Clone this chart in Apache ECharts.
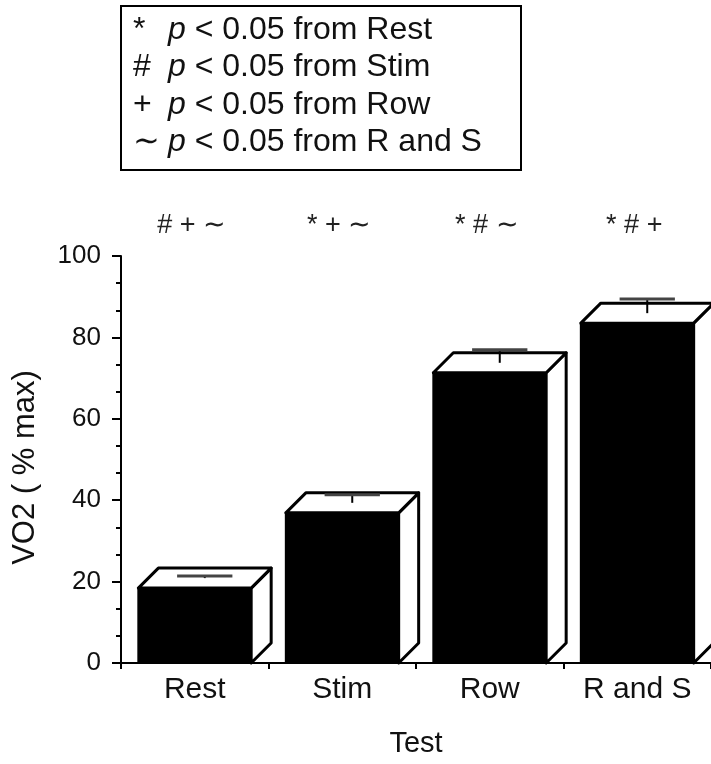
<!DOCTYPE html>
<html><head><meta charset="utf-8">
<script src="https://cdn.jsdelivr.net/npm/echarts@6/dist/echarts.min.js"></script>
<style>html,body{margin:0;padding:0;background:#fff}#c{width:711px;height:764px}</style>
</head><body><div id="c"></div>
<script>
// ---- data ----
const categories = ['Rest', 'Stim', 'Row', 'R and S'];
const vo2Mean = [18.4, 36.9, 71.3, 83.5];
const vo2Err = [0.5, 2.0, 3.2, 3.5];
const sigMarks = ['# + ∼', '* + ∼', '* # ∼', '* # +'];
const legendSymbols = ['*', '#', '+', '∼'];
const legendTargets = ['Rest', 'Stim', 'Row', 'R and S'];
const yMin = 0, yMax = 100, yStep = 20;

// ---- style constants ----
const FONT = '"Liberation Sans", Arial, Helvetica, sans-serif';
const DEPTH = 20;
const SIG_LEVEL = 107.5;

const chart = echarts.init(document.getElementById('c'), null, { renderer: 'canvas' });

function renderBar(params, api) {
  const i = api.value(0);
  const v = api.value(1);
  const e = api.value(2);
  const band = api.size([1, 0])[0];
  const w = band * 0.765;
  const base = api.coord([i, 0]);
  const cx = base[0], y0 = base[1];
  const yt = api.coord([i, v])[1];
  const ye = api.coord([i, v + e])[1];
  const ys = api.coord([i, SIG_LEVEL])[1];
  const x0 = cx - w / 2, x1 = cx + w / 2;
  const d = DEPTH;
  const edge = { stroke: '#000', lineWidth: 3, lineJoin: 'round' };
  return {
    type: 'group',
    children: [
      { type: 'rect', shape: { x: x0, y: yt, width: w, height: y0 - yt },
        style: { fill: '#000', stroke: '#000', lineWidth: 2 } },
      { type: 'polygon', shape: { points: [[x1, yt], [x1 + d, yt - d], [x1 + d, y0 - d], [x1, y0]] },
        style: Object.assign({ fill: '#fff' }, edge) },
      { type: 'polygon', shape: { points: [[x0, yt], [x0 + d, yt - d], [x1 + d, yt - d], [x1, yt]] },
        style: Object.assign({ fill: '#fff' }, edge) },
      { type: 'line', shape: { x1: cx + d / 2, y1: yt - d / 2, x2: cx + d / 2, y2: ye - d / 2 },
        style: { stroke: '#000', lineWidth: 2 } },
      { type: 'line', shape: { x1: cx + d / 2 - w * 0.245, y1: ye - d / 2, x2: cx + d / 2 + w * 0.245, y2: ye - d / 2 },
        style: { stroke: '#444', lineWidth: 3 } },
      { type: 'text', style: { text: sigMarks[i], x: cx - 3, y: ys, align: 'center', verticalAlign: 'middle',
          fontSize: 27, fontFamily: FONT, fill: '#222' } }
    ]
  };
}

const legendTexts = legendSymbols.map((s, k) => ({
  type: 'text',
  left: 133,
  top: 14 + k * 37.5,
  style: {
    text: '{s|' + s + '}{p|p}{t| < 0.05 from ' + legendTargets[k] + '}',
    fill: '#111',
    rich: {
      s: { fontSize: 32, fontFamily: FONT, width: 35, fill: '#111' },
      p: { fontSize: 32, fontFamily: FONT, fontStyle: 'italic', fill: '#111' },
      t: { fontSize: 32, fontFamily: FONT, fill: '#111' }
    }
  }
}));

const option = {
  backgroundColor: '#fff',
  animation: false,
  grid: { left: 121, top: 256, width: 592, height: 407, containLabel: false },
  xAxis: {
    type: 'category',
    data: categories,
    boundaryGap: true,
    name: 'Test',
    nameLocation: 'middle',
    nameGap: 66,
    nameTextStyle: { fontSize: 29, fontFamily: FONT, color: '#111' },
    axisLine: { show: true, lineStyle: { color: '#000', width: 2 } },
    axisTick: { show: true, length: 6, lineStyle: { color: '#000', width: 2 } },
    axisLabel: { fontSize: 30, fontFamily: FONT, color: '#111', margin: 12 },
    splitLine: { show: false }
  },
  yAxis: {
    type: 'value',
    min: yMin, max: yMax, interval: yStep,
    name: 'VO2 ( % max)',
    nameLocation: 'middle',
    nameGap: 80,
    nameTextStyle: { fontSize: 31, fontFamily: FONT, color: '#111', padding: [0, 16, 0, 0] },
    axisLine: { show: true, lineStyle: { color: '#000', width: 2 } },
    axisTick: { show: true, length: 9, lineStyle: { color: '#000', width: 2 } },
    minorTick: { show: true, splitNumber: 3, length: 5, lineStyle: { color: '#000', width: 2 } },
    axisLabel: { fontSize: 26, fontFamily: FONT, color: '#111', margin: 20 },
    splitLine: { show: false }
  },
  graphic: [
    { type: 'rect', left: 120, top: 5, shape: { width: 400, height: 164 },
      style: { fill: '#fff', stroke: '#000', lineWidth: 2 } }
  ].concat(legendTexts),
  series: [{
    type: 'custom',
    renderItem: renderBar,
    clip: false,
    encode: { x: 0, y: 1 },
    data: categories.map((c, i) => [i, vo2Mean[i], vo2Err[i]])
  }]
};
chart.setOption(option);
</script>
</body></html>
